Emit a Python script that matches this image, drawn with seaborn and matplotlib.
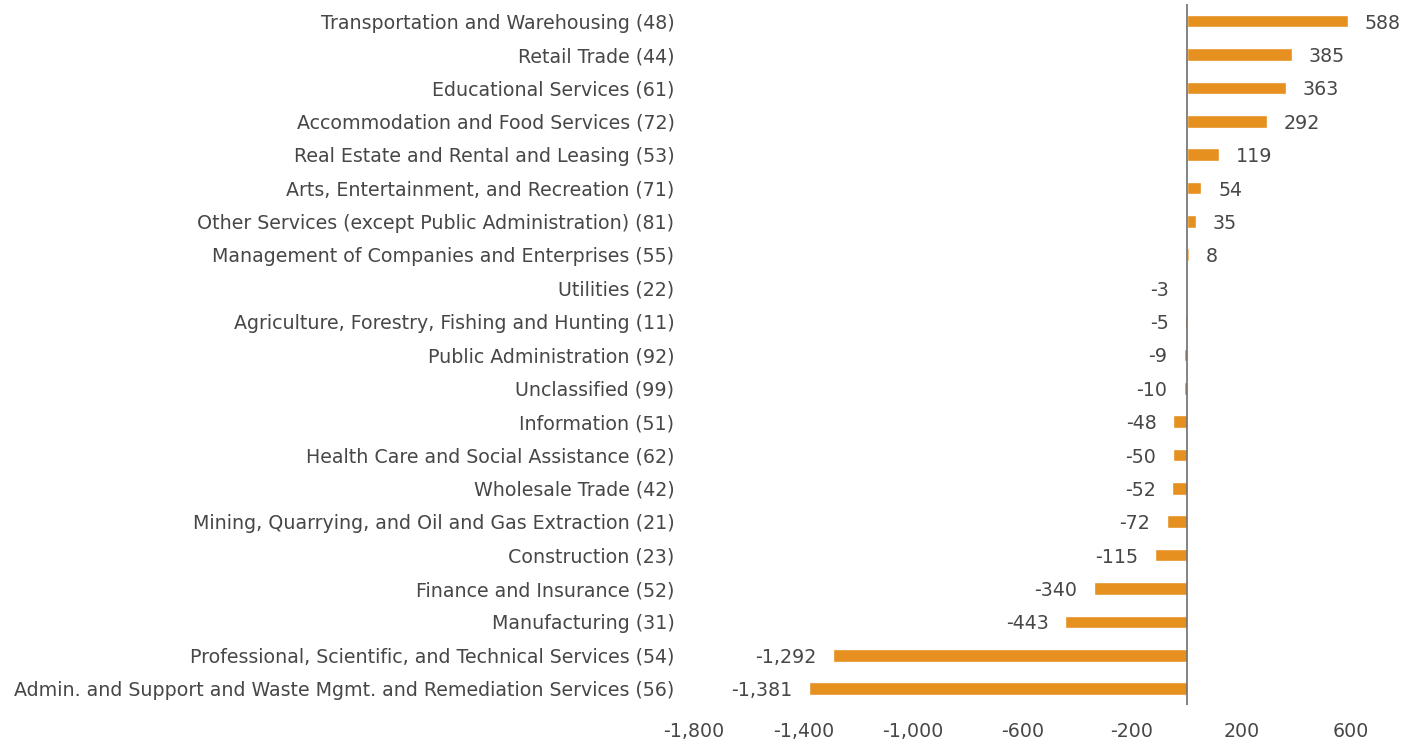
import matplotlib
matplotlib.use("Agg")
import matplotlib.pyplot as plt
from matplotlib.ticker import FuncFormatter, MultipleLocator
import numpy as np
import pandas as pd
import seaborn as sns

# === data ===
INDUSTRIES = [
    "Transportation and Warehousing (48)",
    "Retail Trade (44)",
    "Educational Services (61)",
    "Accommodation and Food Services (72)",
    "Real Estate and Rental and Leasing (53)",
    "Arts, Entertainment, and Recreation (71)",
    "Other Services (except Public Administration) (81)",
    "Management of Companies and Enterprises (55)",
    "Utilities (22)",
    "Agriculture, Forestry, Fishing and Hunting (11)",
    "Public Administration (92)",
    "Unclassified (99)",
    "Information (51)",
    "Health Care and Social Assistance (62)",
    "Wholesale Trade (42)",
    "Mining, Quarrying, and Oil and Gas Extraction (21)",
    "Construction (23)",
    "Finance and Insurance (52)",
    "Manufacturing (31)",
    "Professional, Scientific, and Technical Services (54)",
    "Admin. and Support and Waste Mgmt. and Remediation Services (56)",
]
CHANGE = [588, 385, 363, 292, 119, 54, 35, 8, -3, -5, -9, -10,
          -48, -50, -52, -72, -115, -340, -443, -1292, -1381]

BAR_COLOR = "#E6901F"
TEXT_COLOR = "#474747"
FONT_SIZE = 13.7

sns.set_style("white")
plt.rcParams["font.family"] = ["DejaVu Sans"]

df = pd.DataFrame({"industry": INDUSTRIES, "change": CHANGE})

fig = plt.figure(figsize=(14.19, 7.44), dpi=100)
ax = fig.add_axes([0.489, 0.052, 0.463, 0.942])

sns.barplot(data=df, x="change", y="industry", orient="h", color=BAR_COLOR,
            width=0.38, saturation=1, ax=ax)

fmt = lambda v, _=None: f"{v:,.0f}"

# value labels outside the bar end
for p, v in zip(ax.patches, CHANGE):
    end = p.get_x() + p.get_width()
    yc = p.get_y() + p.get_height() / 2
    sign = 1 if v >= 0 else -1
    ax.annotate(fmt(v), (end, yc), xytext=(sign * 12, 0), textcoords="offset points",
                ha="left" if v >= 0 else "right", va="center_baseline",
                fontsize=FONT_SIZE, color=TEXT_COLOR)

ax.axvline(0, color="#6e6e6e", lw=1.2, zorder=3)
ax.set_xlim(-1800, 600)
ax.xaxis.set_major_locator(MultipleLocator(400, offset=200))
ax.xaxis.set_major_formatter(FuncFormatter(fmt))
ax.set_ylim(len(INDUSTRIES) - 0.5, -0.5)

for s in ax.spines.values():
    s.set_visible(False)
ax.tick_params(axis="both", length=0, labelsize=FONT_SIZE, colors=TEXT_COLOR)
ax.tick_params(axis="y", pad=14)
ax.tick_params(axis="x", pad=12)
ax.set_xlabel("")
ax.set_ylabel("")

fig.savefig("out.png", dpi=100)
